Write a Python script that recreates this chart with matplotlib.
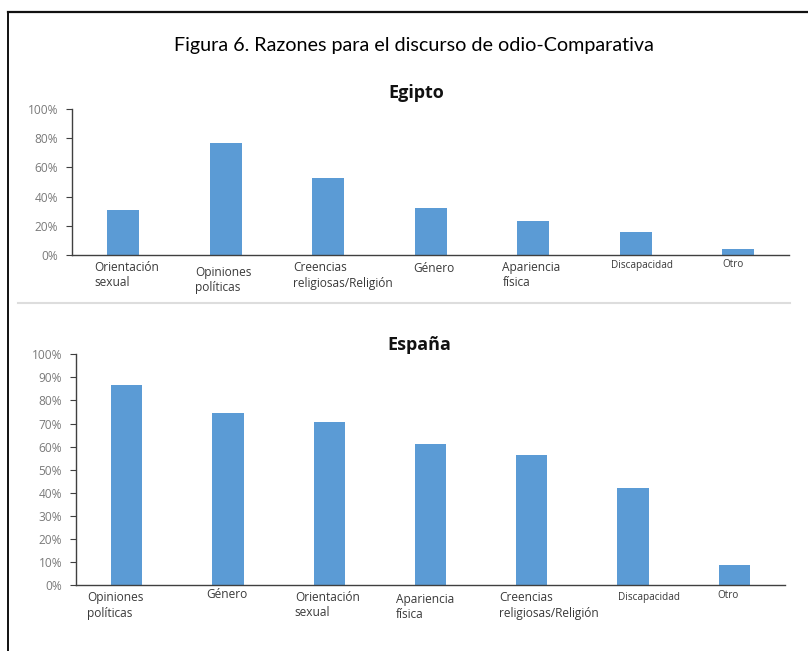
import matplotlib
matplotlib.use("Agg")
import matplotlib.pyplot as plt
from matplotlib.lines import Line2D
from matplotlib.ticker import FuncFormatter, MultipleLocator

# Porcentaje de encuestados por razón del discurso de odio
categorias_egipto = [
    "Orientación\nsexual",
    "Opiniones\npolíticas",
    "Creencias\nreligiosas/Religión",
    "Género",
    "Apariencia\nfísica",
    "Discapacidad",
    "Otro",
]
valores_egipto = [31, 77, 52.5, 32, 23, 16, 4]

categorias_espana = [
    "Opiniones\npolíticas",
    "Género",
    "Orientación\nsexual",
    "Apariencia\nfísica",
    "Creencias\nreligiosas/Religión",
    "Discapacidad",
    "Otro",
]
valores_espana = [86.5, 74.5, 70.5, 61, 56.5, 42, 8.5]

W, H = 808, 651
AZUL = "#5B9BD5"
FUENTE = "Open Sans"

fig = plt.figure(figsize=(W / 100, H / 100), dpi=100)
fig.patch.set_facecolor("white")


def px_axes(left, right, top, bottom):
    return fig.add_axes([left / W, 1 - bottom / H, (right - left) / W, (bottom - top) / H])


def panel(ax, cats, vals, paso, lab_dx, lab_dy):
    x = range(len(cats))
    ax.bar(x, vals, width=0.31, color=AZUL, zorder=2)
    ax.set_xlim(-0.5, len(cats) - 0.5)
    ax.set_ylim(0, 100)
    ax.yaxis.set_major_locator(MultipleLocator(paso))
    ax.yaxis.set_major_formatter(FuncFormatter(lambda v, _: f"{v:.0f}%"))
    for s in ("top", "right"):
        ax.spines[s].set_visible(False)
    ax.spines["left"].set_color("#404040")
    ax.spines["bottom"].set_color("#404040")
    ax.spines["left"].set_linewidth(1.0)
    ax.spines["bottom"].set_linewidth(1.0)
    ax.tick_params(axis="y", length=4, width=0.8, color="#404040",
                   labelsize=8.6, labelcolor="#7a7a7a", pad=6)
    for lab in ax.get_yticklabels():
        lab.set_fontfamily(FUENTE)
    ax.set_xticks([])
    for i, c in enumerate(cats):
        chico = c in ("Discapacidad", "Otro")
        ax.annotate(c, xy=(i + lab_dx[i], 0), xycoords=("data", "axes fraction"),
                    xytext=(0, -lab_dy[i]), textcoords="offset pixels",
                    ha="left", va="top", fontsize=7.2 if chico else 8.6,
                    color="#3a3a3a", family=FUENTE, linespacing=1.25)


ax1 = px_axes(72, 789.5, 109, 255)
panel(ax1, categorias_egipto, valores_egipto, 20,
      [-0.28, -0.30, -0.34, -0.17, -0.30, -0.24, -0.15],
      [6, 11, 6, 7, 6, 5, 4])

ax2 = px_axes(76, 785, 354.3, 585)
panel(ax2, categorias_espana, valores_espana, 10,
      [-0.39, -0.21, -0.34, -0.34, -0.32, -0.15, -0.17],
      [6, 3, 6, 8, 6, 7, 5])

# títulos
fig.text(414 / W, 1 - 45 / H, "Figura 6. Razones para el discurso de odio-Comparativa",
         ha="center", va="center", fontsize=14.2, family="Lato", color="#000000")
fig.text(416 / W, 1 - 93 / H, "Egipto", ha="center", va="center",
         fontsize=13, fontweight="bold", family=FUENTE, color="#111111")
fig.text(419 / W, 1 - 345 / H, "España", ha="center", va="center",
         fontsize=13, fontweight="bold", family=FUENTE, color="#111111")

# marco y separador
fig.add_artist(Line2D([8 / W, 1], [1 - 12 / H, 1 - 12 / H], color="#111111", lw=1.6))
fig.add_artist(Line2D([8 / W, 8 / W], [0, 1 - 12 / H], color="#111111", lw=1.4))
fig.add_artist(Line2D([18 / W, 790 / W], [1 - 303 / H, 1 - 303 / H], color="#dddddd", lw=1.5))

fig.savefig("out.png", dpi=100)
